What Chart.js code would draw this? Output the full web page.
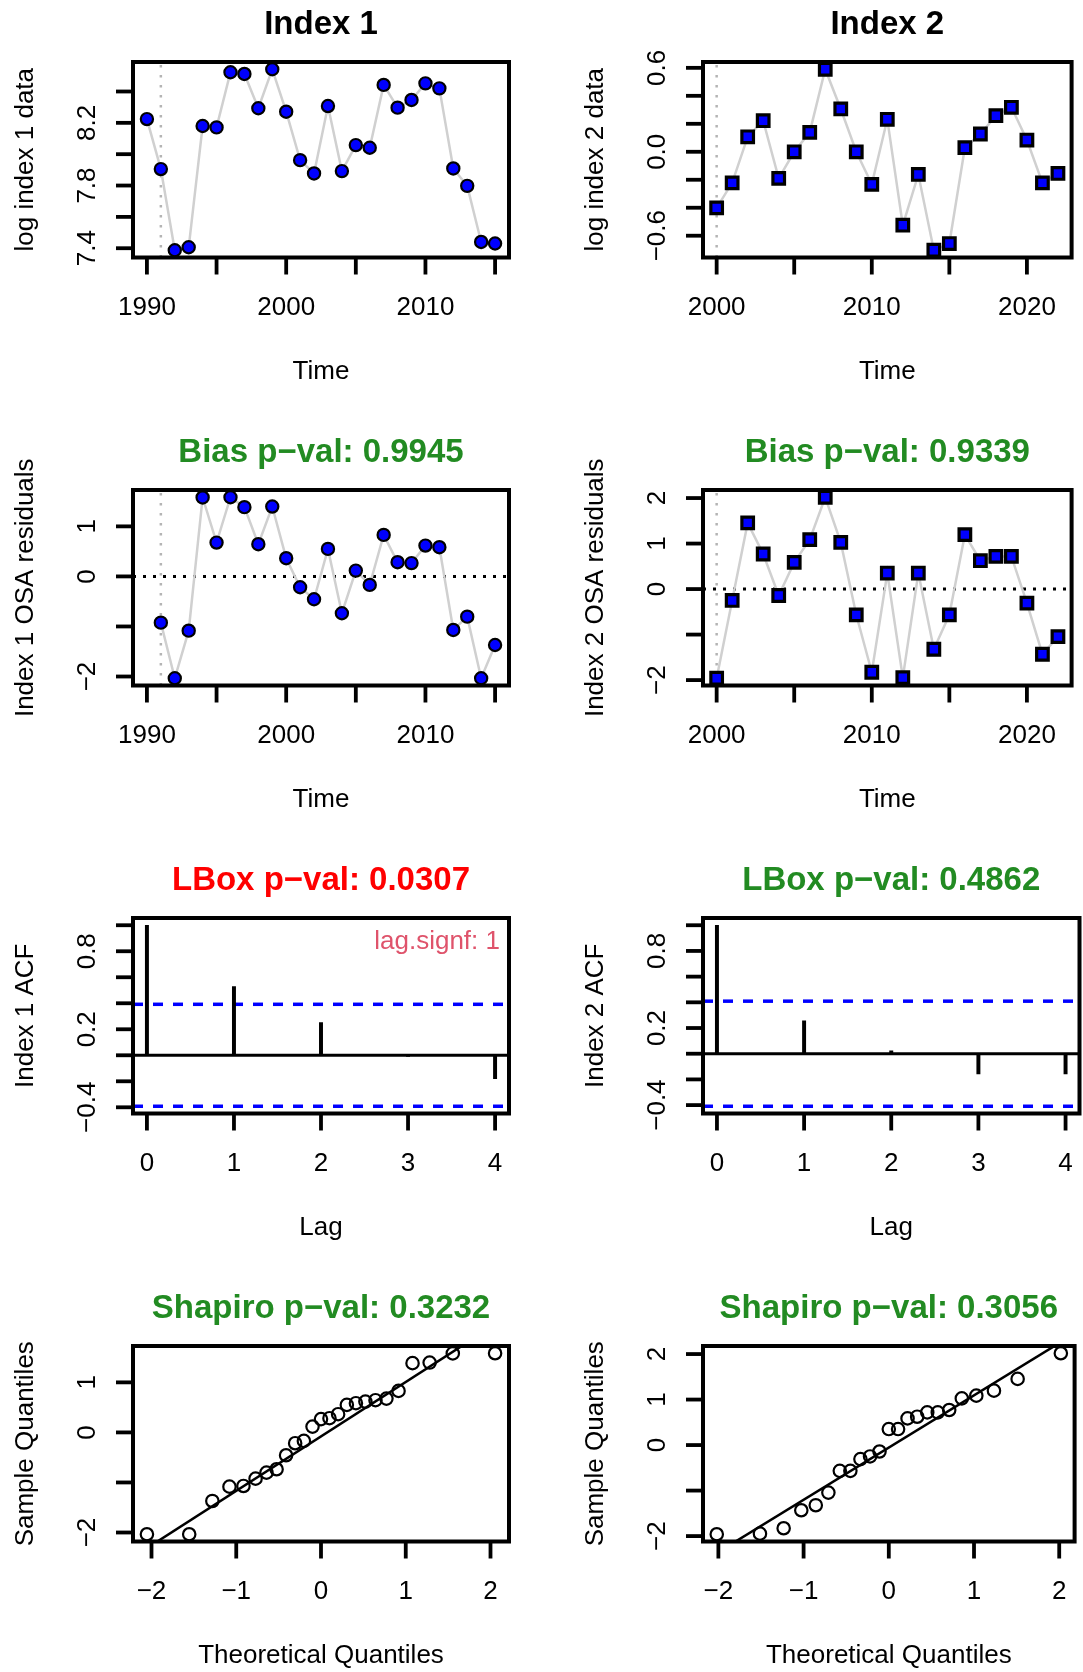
<!DOCTYPE html>
<html>
<head>
<meta charset="utf-8">
<title>Index diagnostics</title>
<script src="https://cdn.jsdelivr.net/npm/chart.js@4.4.1/dist/chart.umd.min.js"></script>
<style>
  html, body { margin: 0; padding: 0; background: #fff; overflow: hidden; }
  #page { position: relative; width: 1083px; height: 1672px; overflow: hidden; background: #fff; }
  #page canvas { position: absolute; }
</style>
</head>
<body>
<div id="page"></div>
<script>
// ============================================
// Index 1 / Index 2 fit diagnostics (R style panels)
// ============================================

// === DATA: observed log indices ===
const years1 = [1990, 1991, 1992, 1993, 1994, 1995, 1996, 1997, 1998, 1999, 2000, 2001, 2002,
                2003, 2004, 2005, 2006, 2007, 2008, 2009, 2010, 2011, 2012, 2013, 2014, 2015];
const logIndex1 = [8.224, 7.905, 7.387, 7.406, 8.18, 8.171, 8.523, 8.512, 8.293, 8.542, 8.271, 7.962, 7.877,
                   8.307, 7.892, 8.058, 8.041, 8.442, 8.297, 8.346, 8.452, 8.42, 7.909, 7.798, 7.44, 7.43];

const years2 = [2000, 2001, 2002, 2003, 2004, 2005, 2006, 2007, 2008, 2009, 2010, 2011,
                2012, 2013, 2014, 2015, 2016, 2017, 2018, 2019, 2020, 2021, 2022];
const logIndex2 = [-0.401, -0.222, 0.107, 0.222, -0.19, 0.0, 0.139, 0.59, 0.306, 0.0, -0.233, 0.232,
                   -0.525, -0.162, -0.704, -0.656, 0.029, 0.127, 0.258, 0.318, 0.084, -0.222, -0.155];

// === DATA: one-step-ahead residuals ===
const residYears1 = [1991, 1992, 1993, 1994, 1995, 1996, 1997, 1998, 1999, 2000, 2001, 2002, 2003,
                     2004, 2005, 2006, 2007, 2008, 2009, 2010, 2011, 2012, 2013, 2014, 2015];
const osaResid1 = [-0.924, -2.035, -1.084, 1.578, 0.676, 1.582, 1.384, 0.644, 1.396, 0.364, -0.216, -0.456, 0.55,
                   -0.736, 0.116, -0.17, 0.83, 0.284, 0.266, 0.616, 0.584, -1.07, -0.804, -2.035, -1.37];
const residYears2 = years2;
const osaResid2 = [-1.96, -0.25, 1.454, 0.771, -0.141, 0.586, 1.086, 2.018, 1.026, -0.566, -1.828, 0.352,
                   -1.947, 0.352, -1.322, -0.566, 1.196, 0.623, 0.718, 0.718, -0.308, -1.432, -1.044];

// === DATA: autocorrelation of residuals ===
const acfLags = [0, 1, 2, 3, 4];
const acf1 = [1.0, 0.528, 0.251, -0.008, -0.18];
const acf2 = [1.0, 0.256, 0.022, -0.157, -0.157];
const acfBound1 = [0.392];
const acfBound2 = [0.409];

// === DATA: normal QQ ===
const qqTheo1 = [-2.054, -1.555, -1.282, -1.08, -0.915, -0.772, -0.643, -0.524, -0.412, -0.305, -0.202, -0.1, 0,
                 0.1, 0.202, 0.305, 0.412, 0.524, 0.643, 0.772, 0.915, 1.08, 1.282, 1.555, 2.054];
const qqSample1 = [-2.035, -2.035, -1.37, -1.084, -1.07, -0.924, -0.804, -0.736, -0.456, -0.216, -0.17, 0.116, 0.266,
                   0.284, 0.364, 0.55, 0.584, 0.616, 0.644, 0.676, 0.83, 1.384, 1.396, 1.578, 1.582];
const qqLineX1 = [-2.4, 2.4];
const qqLineY1 = [-2.69, 2.53];

const qqTheo2 = [-2.019, -1.512, -1.234, -1.027, -0.857, -0.709, -0.575, -0.451, -0.333, -0.22, -0.109, 0,
                 0.109, 0.22, 0.333, 0.451, 0.575, 0.709, 0.857, 1.027, 1.234, 1.512, 2.019];
const qqSample2 = [-1.96, -1.947, -1.828, -1.432, -1.322, -1.044, -0.566, -0.566, -0.308, -0.25, -0.141, 0.352,
                   0.352, 0.586, 0.623, 0.718, 0.718, 0.771, 1.026, 1.086, 1.196, 1.454, 2.018];
const qqLineX2 = [-2.4, 2.4];
const qqLineY2 = [-2.81, 2.70];

// === TICKS ===
const yearTicks1 = [1990, 1995, 2000, 2005, 2010, 2015];
const yearLabels1 = ['1990', '', '2000', '', '2010', ''];
const yearTicks2 = [2000, 2005, 2010, 2015, 2020];
const yearLabels2 = ['2000', '', '2010', '', '2020'];
const logTicks1 = [7.4, 7.6, 7.8, 8.0, 8.2, 8.4];
const logLabels1 = ['7.4', '', '7.8', '', '8.2', ''];
const logTicks2 = [-0.6, -0.4, -0.2, 0, 0.2, 0.4, 0.6];
const logLabels2 = ['\u22120.6', '', '', '0.0', '', '', '0.6'];
const residTicks1 = [-2, -1, 0, 1];
const residLabels1 = ['\u22122', '', '0', '1'];
const residTicks2 = [-2, -1, 0, 1, 2];
const residLabels2 = ['\u22122', '', '0', '1', '2'];
const lagTicks = [0, 1, 2, 3, 4];
const lagLabels = ['0', '1', '2', '3', '4'];
const acfTicks = [-0.4, -0.2, 0, 0.2, 0.4, 0.6, 0.8, 1.0];
const acfLabels = ['\u22120.4', '', '', '0.2', '', '', '0.8', ''];
const qqXTicks = [-2, -1, 0, 1, 2];
const qqXLabels = ['\u22122', '\u22121', '0', '1', '2'];
const qqYTicks1 = [-2, -1, 0, 1];
const qqYLabels1 = ['\u22122', '', '0', '1'];
const qqYTicks2 = [-2, -1, 0, 1, 2];
const qqYLabels2 = ['\u22122', '', '0', '1', '2'];

// === STYLE ===
const FONT = '"Liberation Sans", Arial, sans-serif';
const GREEN = '#228B22';
const RED = '#FF0000';
const PINK = '#DF536B';
const BLUE = '#0000FF';
const LINE_GREY = '#D0D0D0';
const DOT_GREY = '#B4B4B4';

// panel geometry (page px)
const COLS = [
    { left: 0, width: 541, boxLeft: 133, boxRight: 509 },
    { left: 541, width: 542, boxLeft: 703, boxRight: 1079.5 }
];
const ROW_H = 428;
const BOX_TOP = 62;
const BOX_BOTTOM = 257.5;

// R pads the data range by 4% on each side
function rLimits(values) {
    const lo = Math.min(...values), hi = Math.max(...values);
    const pad = (hi - lo) * 0.04;
    return [lo - pad, hi + pad];
}

function toPoints(xs, ys) {
    return xs.map((x, i) => ({ x: x, y: ys[i] }));
}

// === R STYLE FRAME: box, ticks, labels, titles ===
const rFrame = {
    id: 'rFrame',
    afterDatasetsDraw(chart, args, o) {
        if (!o || !o.xTicks) return;
        const ctx = chart.ctx;
        const a = chart.chartArea;
        const sx = chart.scales.x, sy = chart.scales.y;
        ctx.save();

        // box
        ctx.strokeStyle = '#000';
        ctx.lineWidth = 4;
        ctx.strokeRect(a.left, a.top, a.right - a.left, a.bottom - a.top);

        ctx.lineWidth = 3.8;
        ctx.lineCap = 'butt';
        ctx.fillStyle = '#000';
        ctx.font = '26px ' + FONT;

        // x axis
        ctx.textAlign = 'center';
        ctx.textBaseline = 'alphabetic';
        o.xTicks.forEach((v, i) => {
            const px = sx.getPixelForValue(v);
            ctx.beginPath();
            ctx.moveTo(px, a.bottom);
            ctx.lineTo(px, a.bottom + 17);
            ctx.stroke();
            if (o.xLabels[i]) ctx.fillText(o.xLabels[i], px, a.bottom + 57.5);
        });

        // y axis (labels parallel to the axis)
        o.yTicks.forEach((v, i) => {
            const py = sy.getPixelForValue(v);
            ctx.beginPath();
            ctx.moveTo(a.left, py);
            ctx.lineTo(a.left - 17, py);
            ctx.stroke();
            if (o.yLabels[i]) {
                ctx.save();
                ctx.translate(a.left - 38.5, py);
                ctx.rotate(-Math.PI / 2);
                ctx.fillText(o.yLabels[i], 0, 0);
                ctx.restore();
            }
        });

        const cx = (a.left + a.right) / 2;
        const cy = (a.top + a.bottom) / 2;

        // axis titles
        ctx.fillText(o.xTitle, cx, a.bottom + 121);
        ctx.save();
        ctx.translate(a.left - 100, cy);
        ctx.rotate(-Math.PI / 2);
        ctx.fillText(o.yTitle, 0, 0);
        ctx.restore();

        // main title
        ctx.font = 'bold 33px ' + FONT;
        ctx.fillStyle = o.titleColor || '#000';
        ctx.fillText(o.title, cx, a.top - 28.5);

        // corner note
        if (o.note) {
            ctx.font = '26px ' + FONT;
            ctx.fillStyle = o.noteColor;
            ctx.textAlign = 'right';
            ctx.fillText(o.note, a.right - 9, a.top + 31);
        }
        ctx.restore();
    }
};
Chart.register(rFrame);

function makeCanvas(row, col) {
    const c = COLS[col];
    const canvas = document.createElement('canvas');
    canvas.width = c.width;
    canvas.height = ROW_H;
    canvas.style.width = c.width + 'px';
    canvas.style.height = ROW_H + 'px';
    canvas.style.left = c.left + 'px';
    canvas.style.top = (row * ROW_H) + 'px';
    document.getElementById('page').appendChild(canvas);
    const padding = {
        left: c.boxLeft - c.left,
        right: c.left + c.width - c.boxRight,
        top: BOX_TOP,
        bottom: ROW_H - BOX_BOTTOM
    };
    return { canvas, padding };
}

function baseOptions(padding, xLim, yLim, frame) {
    return {
        responsive: false,
        animation: false,
        events: [],
        layout: { padding: padding },
        scales: {
            x: { type: 'linear', display: false, min: xLim[0], max: xLim[1], offset: false },
            y: { type: 'linear', display: false, min: yLim[0], max: yLim[1] }
        },
        plugins: {
            legend: { display: false },
            tooltip: { enabled: false },
            rFrame: frame
        }
    };
}

function refLine(points, color, width, dash) {
    return {
        type: 'line',
        data: points,
        borderColor: color,
        borderWidth: width,
        borderDash: dash,
        borderCapStyle: 'butt',
        pointRadius: 0,
        showLine: true,
        fill: false,
        tension: 0,
        order: 5
    };
}

// === TIME SERIES PANEL (data or residuals) ===
function seriesPanel(row, col, xs, ys, allX, startX, square, zeroLine, frame) {
    const { canvas, padding } = makeCanvas(row, col);
    const xLim = rLimits(allX);
    const yLim = rLimits(ys);
    const datasets = [{
        type: 'line',
        data: toPoints(xs, ys),
        showLine: true,
        borderColor: LINE_GREY,
        borderWidth: 2.5,
        tension: 0,
        pointStyle: square ? 'rect' : 'circle',
        pointRadius: square ? 8.2 : 6.1,
        pointBorderWidth: square ? 3.2 : 2.2,
        pointBackgroundColor: BLUE,
        pointBorderColor: '#000',
        order: 0
    }];
    datasets.push(refLine([{ x: startX, y: yLim[0] }, { x: startX, y: yLim[1] }], DOT_GREY, 2.5, [2.5, 7.5]));
    if (zeroLine) {
        datasets.push(refLine([{ x: xLim[0], y: 0 }, { x: xLim[1], y: 0 }], '#000', 3, [3, 7]));
    }
    return new Chart(canvas, {
        type: 'scatter',
        data: { datasets },
        options: baseOptions(padding, xLim, yLim, frame)
    });
}

// === ACF PANEL ===
function acfPanel(row, col, lags, acf, bound, frame) {
    const { canvas, padding } = makeCanvas(row, col);
    const xLim = rLimits(lags);
    const yLim = rLimits(acf.concat([bound[0], -bound[0]]));
    return new Chart(canvas, {
        type: 'bar',
        data: {
            datasets: [
                {
                    type: 'bar',
                    data: toPoints(lags, acf),
                    backgroundColor: '#000',
                    barThickness: 3.3,
                    order: 0
                },
                refLine([{ x: xLim[0], y: 0 }, { x: xLim[1], y: 0 }], '#000', 3, []),
                refLine([{ x: xLim[0], y: bound[0] }, { x: xLim[1], y: bound[0] }], BLUE, 3.5, [10, 10]),
                refLine([{ x: xLim[0], y: -bound[0] }, { x: xLim[1], y: -bound[0] }], BLUE, 3.5, [10, 10])
            ]
        },
        options: baseOptions(padding, xLim, yLim, frame)
    });
}

// === QQ PANEL ===
function qqPanel(row, col, theo, sample, lineX, lineY, frame) {
    const { canvas, padding } = makeCanvas(row, col);
    const xLim = rLimits(theo);
    const yLim = rLimits(sample);
    return new Chart(canvas, {
        type: 'scatter',
        data: {
            datasets: [
                {
                    data: toPoints(theo, sample),
                    pointStyle: 'circle',
                    pointRadius: 6.2,
                    pointBorderWidth: 2.2,
                    pointBackgroundColor: 'rgba(0,0,0,0)',
                    pointBorderColor: '#000',
                    order: 0
                },
                refLine(toPoints(lineX, lineY), '#000', 2.5, [])
            ]
        },
        options: baseOptions(padding, xLim, yLim, frame)
    });
}

// === BUILD ALL PANELS ===
seriesPanel(0, 0, years1, logIndex1, years1, residYears1[0], false, false, {
    title: 'Index 1', titleColor: '#000', xTitle: 'Time', yTitle: 'log index 1 data',
    xTicks: yearTicks1, xLabels: yearLabels1, yTicks: logTicks1, yLabels: logLabels1
});
seriesPanel(0, 1, years2, logIndex2, years2, years2[0], true, false, {
    title: 'Index 2', titleColor: '#000', xTitle: 'Time', yTitle: 'log index 2 data',
    xTicks: yearTicks2, xLabels: yearLabels2, yTicks: logTicks2, yLabels: logLabels2
});

seriesPanel(1, 0, residYears1, osaResid1, years1, residYears1[0], false, true, {
    title: 'Bias p\u2212val: 0.9945', titleColor: GREEN, xTitle: 'Time', yTitle: 'Index 1 OSA residuals',
    xTicks: yearTicks1, xLabels: yearLabels1, yTicks: residTicks1, yLabels: residLabels1
});
seriesPanel(1, 1, residYears2, osaResid2, years2, residYears2[0], true, true, {
    title: 'Bias p\u2212val: 0.9339', titleColor: GREEN, xTitle: 'Time', yTitle: 'Index 2 OSA residuals',
    xTicks: yearTicks2, xLabels: yearLabels2, yTicks: residTicks2, yLabels: residLabels2
});

acfPanel(2, 0, acfLags, acf1, acfBound1, {
    title: 'LBox p\u2212val: 0.0307', titleColor: RED, xTitle: 'Lag', yTitle: 'Index 1 ACF',
    xTicks: lagTicks, xLabels: lagLabels, yTicks: acfTicks, yLabels: acfLabels,
    note: 'lag.signf: 1', noteColor: PINK
});
acfPanel(2, 1, acfLags, acf2, acfBound2, {
    title: 'LBox p\u2212val: 0.4862', titleColor: GREEN, xTitle: 'Lag', yTitle: 'Index 2 ACF',
    xTicks: lagTicks, xLabels: lagLabels, yTicks: acfTicks, yLabels: acfLabels
});

qqPanel(3, 0, qqTheo1, qqSample1, qqLineX1, qqLineY1, {
    title: 'Shapiro p\u2212val: 0.3232', titleColor: GREEN, xTitle: 'Theoretical Quantiles', yTitle: 'Sample Quantiles',
    xTicks: qqXTicks, xLabels: qqXLabels, yTicks: qqYTicks1, yLabels: qqYLabels1
});
qqPanel(3, 1, qqTheo2, qqSample2, qqLineX2, qqLineY2, {
    title: 'Shapiro p\u2212val: 0.3056', titleColor: GREEN, xTitle: 'Theoretical Quantiles', yTitle: 'Sample Quantiles',
    xTicks: qqXTicks, xLabels: qqXLabels, yTicks: qqYTicks2, yLabels: qqYLabels2
});
</script>
</body>
</html>
